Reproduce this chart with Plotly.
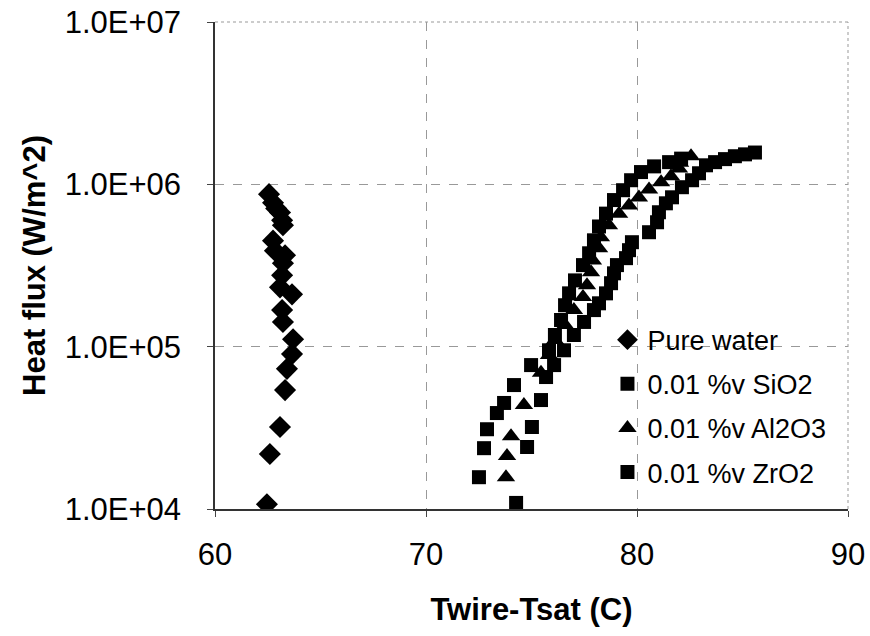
import plotly.graph_objects as go

# ---- data ----
water_x = [62.56, 62.75, 62.90, 63.08, 63.18, 63.22, 62.75, 62.84, 63.32, 63.22, 63.18,
           63.08, 63.65, 63.18, 63.22, 63.70, 63.65, 63.41, 63.32, 63.08, 62.60, 62.46]
water_y = [8.7e5, 7.7e5, 7.1e5, 6.7e5, 6.0e5, 5.6e5, 4.5e5, 3.9e5, 3.66e5, 3.27e5, 2.75e5,
           2.32e5, 2.1e5, 1.68e5, 1.42e5, 1.11e5, 9.0e4, 7.3e4, 5.4e4, 3.2e4, 2.18e4, 1.07e4]

sio2_x = [74.27, 74.79, 75.02, 75.45, 75.69, 76.07, 76.54, 77.01, 77.49, 77.96, 78.20,
          78.53, 78.77, 78.91, 79.05, 79.48, 79.62, 79.76, 80.57, 80.95, 81.04, 81.37,
          81.66, 82.13, 82.61, 82.94, 83.27, 83.70, 84.17, 84.64, 85.12, 85.59]
sio2_y = [1.09e4, 2.41e4, 3.2e4, 4.69e4, 6.5e4, 7.7e4, 9.5e4, 1.18e5, 1.42e5, 1.68e5, 1.85e5,
          2.13e5, 2.46e5, 2.83e5, 3.18e5, 3.51e5, 3.93e5, 4.4e5, 5.07e5, 5.84e5, 6.73e5, 7.64e5,
          8.32e5, 9.6e5, 1.06e6, 1.17e6, 1.31e6, 1.37e6, 1.43e6, 1.49e6, 1.53e6, 1.57e6]

al2o3_x = [73.79, 73.84, 74.03, 74.64, 75.45, 75.83, 76.11, 76.59, 77.01, 77.44, 77.63,
           77.82, 77.91, 78.20, 78.29, 78.67, 79.15, 79.62, 80.09, 80.57, 81.14, 81.61,
           81.99, 82.04, 82.56]
al2o3_y = [1.57e4, 2.12e4, 2.81e4, 4.37e4, 6.9e4, 8.9e4, 1.10e5, 1.36e5, 1.68e5, 2.02e5, 2.39e5,
           2.87e5, 3.4e5, 4.04e5, 4.72e5, 5.6e5, 6.6e5, 7.4e5, 8.3e5, 9.3e5, 1.03e6, 1.12e6,
           1.25e6, 1.36e6, 1.49e6]

zro2_x = [72.51, 72.75, 72.89, 73.36, 73.70, 74.17, 74.98, 75.83, 76.11, 76.40, 76.59,
          76.78, 77.06, 77.44, 77.73, 77.96, 78.20, 78.53, 78.91, 79.34, 79.72, 80.19,
          80.81, 81.52, 82.09]
zro2_y = [1.57e4, 2.37e4, 3.1e4, 3.9e4, 4.5e4, 5.8e4, 7.7e4, 9.5e4, 1.18e5, 1.46e5, 1.8e5,
          2.13e5, 2.56e5, 3.18e5, 3.76e5, 4.52e5, 5.5e5, 6.6e5, 8.0e5, 9.2e5, 1.06e6, 1.19e6,
          1.29e6, 1.37e6, 1.44e6]

series_names = ["Pure water", "0.01 %v SiO2", "0.01 %v Al2O3", "0.01 %v ZrO2"]
y_tickvals = [1e4, 1e5, 1e6, 1e7]
y_ticktext = ["1.0E+04", "1.0E+05", "1.0E+06", "1.0E+07"]
x_tickvals = [60, 70, 80, 90]

FONT = "Liberation Sans, Arial, sans-serif"

fig = go.Figure()
fig.add_trace(go.Scatter(x=water_x, y=water_y, mode="markers", name=series_names[0],
                         legendgroup="a",
                         marker=dict(symbol="diamond", size=17, color="black")))
fig.add_trace(go.Scatter(x=sio2_x, y=sio2_y, mode="markers", name=series_names[1],
                         legendgroup="b",
                         marker=dict(symbol="square", size=14, color="black")))
fig.add_trace(go.Scatter(x=al2o3_x, y=al2o3_y, mode="markers", name=series_names[2],
                         legendgroup="c",
                         marker=dict(symbol="triangle-up", size=16, color="black")))
fig.add_trace(go.Scatter(x=zro2_x, y=zro2_y, mode="markers", name=series_names[3],
                         legendgroup="d",
                         marker=dict(symbol="square", size=14, color="black")))

grid = dict(showgrid=True, gridcolor="#999999", griddash="dash", gridwidth=1)

# dotted frame lines along the top (1.0E+07) and right (90) edges
edge = dict(type="line", xref="paper", yref="paper", layer="below",
            line=dict(color="#999999", width=1, dash="dot"))

fig.update_layout(
    width=870, height=636,
    margin=dict(l=215, r=22, t=22, b=127),
    paper_bgcolor="white", plot_bgcolor="white",
    font=dict(family=FONT, color="black", size=30),
    showlegend=True,
    legend=dict(x=0.62, y=0.397, xanchor="left", yanchor="top",
                bgcolor="rgba(0,0,0,0)", font=dict(size=27, family=FONT, color="black"),
                traceorder="grouped", tracegroupgap=6, itemsizing="trace"),
    shapes=[dict(edge, x0=0, x1=1, y0=1, y1=1), dict(edge, x0=1, x1=1, y0=0, y1=1)],
    xaxis=dict(range=[60, 90], tickvals=x_tickvals, ticks="outside", ticklen=6,
               tickcolor="#444", showline=True, linecolor="#333", linewidth=1.5,
               tickfont=dict(size=31, family=FONT), ticklabelstandoff=11,
               ticklabeloverflow="allow",
               title=dict(text="<b>Twire-Tsat (C)</b>", font=dict(size=31, family=FONT),
                          standoff=27),
               automargin=False, zeroline=False, **grid),
    yaxis=dict(type="log", range=[4, 7], tickvals=y_tickvals, ticktext=y_ticktext,
               ticks="outside", ticklen=6, tickcolor="#444", showline=True,
               linecolor="#333", linewidth=1.5,
               tickfont=dict(size=31, family=FONT), ticklabelstandoff=20,
               ticklabeloverflow="allow",
               title=dict(text="<b>Heat flux (W/m^2)</b>", font=dict(size=31, family=FONT),
                          standoff=10),
               automargin=False, zeroline=False, **grid),
)

fig.write_html("out.html", config={"displayModeBar": False},
               post_script="document.body.style.margin='0';document.body.style.overflow='hidden';")
